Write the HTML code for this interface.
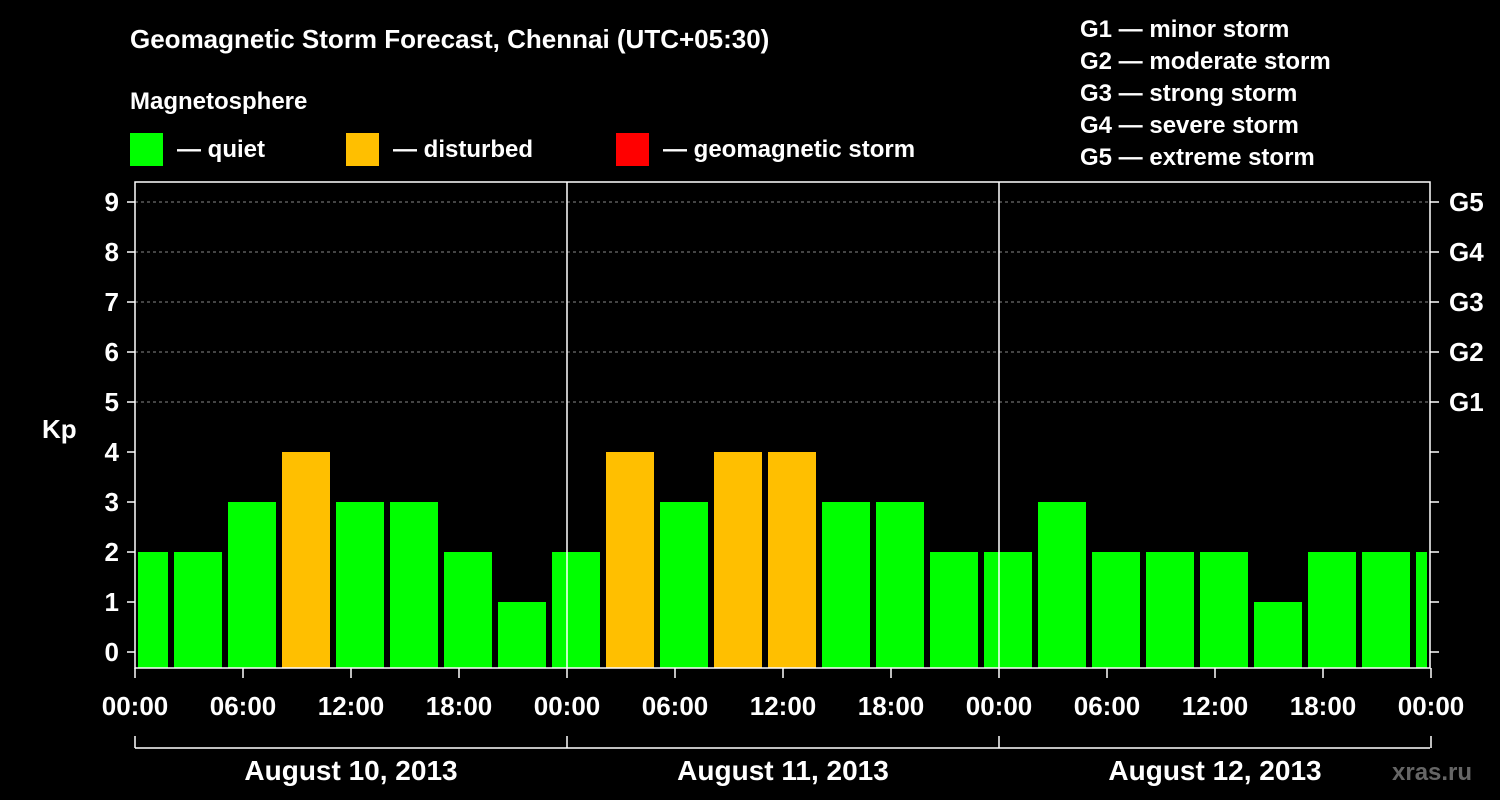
<!DOCTYPE html>
<html><head><meta charset="utf-8"><style>
html,body{margin:0;padding:0;background:#000;width:1500px;height:800px;overflow:hidden}
svg text{font-family:"Liberation Sans",Arial,sans-serif;font-weight:bold;fill:#fff}
</style></head><body>
<svg id="chart" width="1500" height="800" xmlns="http://www.w3.org/2000/svg">
<text x="130" y="48" font-size="26">Geomagnetic Storm Forecast, Chennai (UTC+05:30)</text>
<text x="130" y="109" font-size="24">Magnetosphere</text>
<g><rect x="130" y="133" width="33" height="33" fill="#00ff00"/><text x="177" y="157" font-size="24">— quiet</text></g>
<g><rect x="346" y="133" width="33" height="33" fill="#ffbf00"/><text x="393" y="157" font-size="24">— disturbed</text></g>
<g><rect x="616" y="133" width="33" height="33" fill="#ff0000"/><text x="663" y="157" font-size="24">— geomagnetic storm</text></g>
<g font-size="24">
<text x="1080" y="37">G1 — minor storm</text>
<text x="1080" y="69">G2 — moderate storm</text>
<text x="1080" y="101">G3 — strong storm</text>
<text x="1080" y="133">G4 — severe storm</text>
<text x="1080" y="165">G5 — extreme storm</text>
</g>
<text x="42" y="438" font-size="26">Kp</text>
<text x="1392" y="780" font-size="24" style="fill:#666">xras.ru</text>
<g id="grid"></g><g id="bars"></g><g id="axes"></g>
</svg>
<script>
const kpValues=[2,2,3,4,3,3,2,1,2,4,3,4,4,3,3,2,2,3,2,2,2,1,2,2,2];
const binStartHours=[-1,2,5,8,11,14,17,20,23,26,29,32,35,38,41,44,47,50,53,56,59,62,65,68,71];
const yTicks=[0,1,2,3,4,5,6,7,8,9];
const gLabels=["","","","","","G1","G2","G3","G4","G5"];
const xTickLabels=["00:00","06:00","12:00","18:00","00:00","06:00","12:00","18:00","00:00","06:00","12:00","18:00","00:00"];
const dayLabels=["August 10, 2013","August 11, 2013","August 12, 2013"];
const L=135,R=1430,T=182,B=668;
const x=h=>L+h*18;
const y=v=>652-v*50;
const NS="http://www.w3.org/2000/svg";
function mk(tag,attrs,parent){const e=document.createElementNS(NS,tag);for(const k in attrs)e.setAttribute(k,attrs[k]);parent.appendChild(e);return e;}
const grid=document.getElementById('grid'),bars=document.getElementById('bars'),axes=document.getElementById('axes');
yTicks.forEach((v,i)=>{
 if(v>=5){const l=mk('line',{x1:L,x2:R,y1:y(v),y2:y(v),stroke:'#888','stroke-dasharray':'3,3','stroke-width':1},grid);
 
 }
 const t=mk('line',{x1:L-8,x2:L,y1:y(v),y2:y(v),stroke:'#fff','stroke-width':1.5},axes);
 
 
 const t2=mk('line',{x1:R,x2:R+9,y1:y(v),y2:y(v),stroke:'#fff','stroke-width':1.5},axes);
 
 
 const lb=mk('text',{x:L-16,y:y(v)+9,'font-size':26,'text-anchor':'end'},axes);lb.textContent=v;
 
 
 if(gLabels[i]){const g=mk('text',{x:R+19,y:y(v)+9,'font-size':26},axes);g.textContent=gLabels[i];
 
 }
});
kpValues.forEach((v,i)=>{
 let x0=Math.max(x(binStartHours[i]),L)+3,x1=Math.min(x(binStartHours[i]+3),R)-3;
 const r=mk('rect',{x:x0,y:y(v),width:x1-x0,height:B-y(v),fill:v>=5?'#ff0000':(v>=4?'#ffbf00':'#00ff00')},bars);
 
 
});
[24,48].forEach(h=>{const l=mk('line',{x1:x(h),x2:x(h),y1:T,y2:B,stroke:'#fff','stroke-width':1.5},axes);
 
 });
const frame=mk('rect',{x:L,y:T,width:R-L,height:B-T,fill:'none',stroke:'#fff','stroke-width':1.5},axes);


xTickLabels.forEach((s,i)=>{const xx=x(i*6);
 const t=mk('line',{x1:xx,x2:xx,y1:B,y2:B+10,stroke:'#fff','stroke-width':1.5},axes);
 
 
 const lb=mk('text',{x:xx,y:715,'font-size':26,'text-anchor':'middle'},axes);lb.textContent=s;
 
 });
const br=mk('line',{x1:L,x2:R,y1:748,y2:748,stroke:'#fff','stroke-width':1.5},axes);


[0,24,48,72].forEach(h=>{const l=mk('line',{x1:x(h),x2:x(h),y1:736,y2:748,stroke:'#fff','stroke-width':1.5},axes);
 
 });
dayLabels.forEach((s,i)=>{const lb=mk('text',{x:x(i*24+12),y:780,'font-size':28,'text-anchor':'middle'},axes);lb.textContent=s;
 
 });
</script>
</body></html>
